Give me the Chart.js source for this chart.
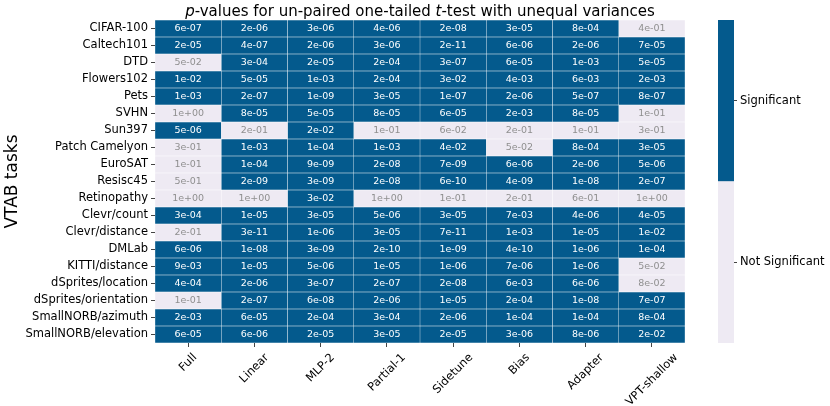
<!DOCTYPE html>
<html><head><meta charset="utf-8">
<script src="https://cdn.jsdelivr.net/npm/chart.js@4.4.1/dist/chart.umd.min.js"></script>
<style>
html,body{margin:0;padding:0;background:#fff;}
#wrap{position:relative;width:830px;height:406px;}
canvas{position:absolute;left:0;top:0;}
</style></head><body>
<div id="wrap"><canvas id="main" width="830" height="406"></canvas><canvas id="cbar" width="830" height="406"></canvas></div>
<script>
const tasks = ['CIFAR-100','Caltech101','DTD','Flowers102','Pets','SVHN','Sun397','Patch Camelyon','EuroSAT','Resisc45','Retinopathy','Clevr/count','Clevr/distance','DMLab','KITTI/distance','dSprites/location','dSprites/orientation','SmallNORB/azimuth','SmallNORB/elevation'];
const methods = ['Full','Linear','MLP-2','Partial-1','Sidetune','Bias','Adapter','VPT-shallow'];
const full       = ['6e-07','2e-05','5e-02','1e-02','1e-03','1e+00','5e-06','3e-01','1e-01','5e-01','1e+00','3e-04','2e-01','6e-06','9e-03','4e-04','1e-01','2e-03','6e-05'];
const linear     = ['2e-06','4e-07','3e-04','5e-05','2e-07','8e-05','2e-01','1e-03','1e-04','2e-09','1e+00','1e-05','3e-11','1e-08','1e-05','2e-06','2e-07','6e-05','6e-06'];
const mlp2       = ['3e-06','2e-06','2e-05','1e-03','1e-09','5e-05','2e-02','1e-04','9e-09','3e-09','3e-02','3e-05','1e-06','3e-09','5e-06','3e-07','6e-08','2e-04','2e-05'];
const partial1   = ['4e-06','3e-06','2e-04','2e-04','3e-05','8e-05','1e-01','1e-03','2e-08','2e-08','1e+00','5e-06','3e-05','2e-10','1e-05','2e-07','2e-06','3e-04','3e-05'];
const sidetune   = ['2e-08','2e-11','3e-07','3e-02','1e-07','6e-05','6e-02','4e-02','7e-09','6e-10','1e-01','3e-05','7e-11','1e-09','1e-06','2e-08','1e-05','2e-06','2e-05'];
const bias       = ['3e-05','6e-06','6e-05','4e-03','2e-06','2e-03','2e-01','5e-02','6e-06','4e-09','2e-01','7e-03','1e-03','4e-10','7e-06','6e-03','2e-04','1e-04','3e-06'];
const adapter    = ['8e-04','2e-06','1e-03','6e-03','5e-07','8e-05','1e-01','8e-04','2e-06','1e-08','6e-01','4e-06','1e-05','1e-06','1e-06','6e-06','1e-08','1e-04','8e-06'];
const vptShallow = ['4e-01','7e-05','5e-05','2e-03','8e-07','1e-01','3e-01','3e-05','5e-06','2e-07','1e+00','4e-05','1e-02','1e-04','5e-02','8e-02','7e-07','8e-04','2e-02'];
const pValues = [full, linear, mlp2, partial1, sidetune, bias, adapter, vptShallow];
const colorbarLabels = ['Not Significant','Significant'];
const titleParts = [['p',true],['-values for un-paired one-tailed ',false],['t',true],['-test with unequal variances',false]];
const ALPHA = 0.05;

const DARK = '#045a8d', LIGHT = '#eeeaf3';
const FONT = "'DejaVu Sans', sans-serif";
const sig = p => Number(p) < ALPHA;

const cellText = {
  id: 'cellText',
  afterDatasetsDraw(chart) {
    const ctx = chart.ctx;
    ctx.save();
    ctx.font = '9.5px ' + FONT;
    ctx.textAlign = 'center';
    ctx.textBaseline = 'middle';
    chart.data.datasets.forEach((ds, di) => {
      chart.getDatasetMeta(di).data.forEach((el, j) => {
        const p = pValues[di][j];
        const c = el.getCenterPoint();
        ctx.fillStyle = sig(p) ? '#ffffff' : '#8f8f8f';
        ctx.fillText(p, c.x, c.y + 0.5);
      });
    });
    ctx.restore();
  }
};

const xLabels = {
  id: 'xLabels',
  afterDraw(chart) {
    const ctx = chart.ctx, sx = chart.scales.x, area = chart.chartArea;
    ctx.save();
    ctx.font = '11.5px ' + FONT;
    ctx.fillStyle = '#000';
    ctx.textAlign = 'center';
    ctx.textBaseline = 'middle';
    const h = 12;
    methods.forEach((m, i) => {
      const x = sx.getPixelForValue(i + 0.5);
      const w = ctx.measureText(m).width;
      const top = area.bottom + 4 + 4.5;
      const cy = top + (w + h) / (2 * Math.SQRT2);
      ctx.save();
      ctx.translate(x, cy);
      ctx.rotate(-Math.PI / 4);
      ctx.fillText(m, 0, 0);
      ctx.restore();
    });
    ctx.restore();
  }
};

const titlePlugin = {
  id: 'titlePlugin',
  afterDraw(chart) {
    const ctx = chart.ctx, area = chart.chartArea;
    ctx.save();
    ctx.fillStyle = '#000';
    ctx.textBaseline = 'alphabetic';
    ctx.textAlign = 'left';
    const fontFor = it => (it ? 'italic ' : '') + '15px ' + FONT;
    let total = 0;
    titleParts.forEach(([t, it]) => { ctx.font = fontFor(it); total += ctx.measureText(t).width; });
    let x = (area.left + area.right) / 2 - total / 2;
    titleParts.forEach(([t, it]) => { ctx.font = fontFor(it); ctx.fillText(t, x, 15.5); x += ctx.measureText(t).width; });
    ctx.restore();
  }
};

new Chart(document.getElementById('main'), {
  type: 'bar',
  data: {
    labels: tasks,
    datasets: methods.map((m, i) => ({
      label: m,
      data: tasks.map(() => 1),
      backgroundColor: pValues[i].map(p => sig(p) ? DARK : LIGHT),
      borderColor: 'rgba(255,255,255,0.3)',
      borderWidth: 0.5,
      borderSkipped: false,
      barPercentage: 1,
      categoryPercentage: 1
    }))
  },
  options: {
    indexAxis: 'y',
    responsive: false,
    animation: false,
    devicePixelRatio: 1,
    layout: { padding: { top: 20, right: 145, left: 0, bottom: 0 } },
    plugins: { legend: { display: false }, tooltip: { enabled: false }, title: { display: false } },
    scales: {
      x: {
        type: 'linear', stacked: true, min: 0, max: 8,
        afterBuildTicks: s => { s.ticks = methods.map((m, i) => ({ value: i + 0.5 })); },
        afterFit: s => { s.height = 63; },
        grid: { drawOnChartArea: false, drawTicks: true, tickLength: 4, color: '#444' },
        border: { display: false },
        ticks: { display: false }
      },
      y: {
        type: 'category', stacked: true,
        afterFit: s => { s.width = 155; },
        grid: { offset: false, drawOnChartArea: false, drawTicks: true, tickLength: 4, color: '#444' },
        border: { display: false },
        ticks: { color: '#000', font: { family: FONT, size: 11.5 }, padding: 3, autoSkip: false },
        title: { display: true, text: 'VTAB tasks', color: '#000', font: { family: FONT, size: 17 }, padding: { top: 2, bottom: 0 } }
      }
    }
  },
  plugins: [cellText, xLabels, titlePlugin]
});

new Chart(document.getElementById('cbar'), {
  type: 'bar',
  data: {
    labels: [''],
    datasets: colorbarLabels.map((l, i) => ({
      label: l, data: [1],
      backgroundColor: i === 1 ? DARK : LIGHT,
      borderWidth: 0, barPercentage: 1, categoryPercentage: 1
    }))
  },
  options: {
    responsive: false, animation: false, devicePixelRatio: 1,
    layout: { padding: { left: 718, top: 20, bottom: 63, right: 0 } },
    plugins: { legend: { display: false }, tooltip: { enabled: false } },
    scales: {
      x: { display: false, stacked: true },
      y: {
        position: 'right', stacked: true, min: 0, max: 2,
        afterBuildTicks: s => { s.ticks = [{ value: 0.5 }, { value: 1.5 }]; },
        afterFit: s => { s.width = 96; },
        ticks: { callback: v => colorbarLabels[Math.floor(v)], color: '#000', font: { family: FONT, size: 11.5 }, padding: 3 },
        grid: { drawOnChartArea: false, drawTicks: true, tickLength: 3, color: '#444' },
        border: { display: false }
      }
    }
  }
});
</script>
</body></html>
